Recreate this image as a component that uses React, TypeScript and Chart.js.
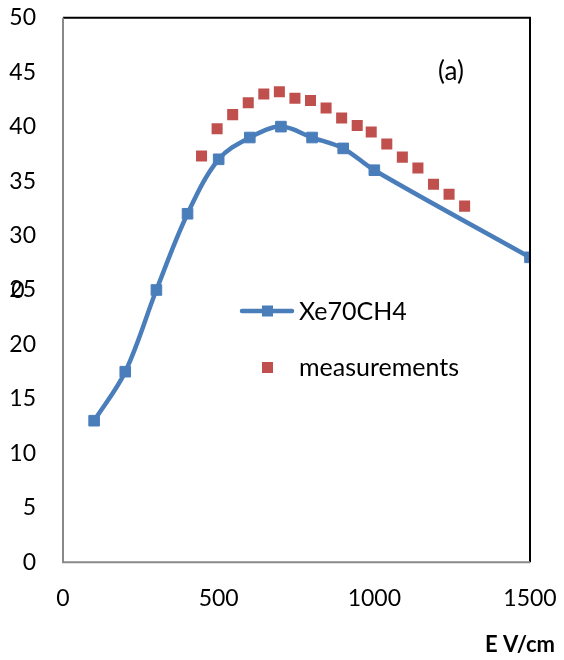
import React, { useEffect, useRef } from "react";
import { Chart, registerables } from "chart.js";

Chart.register(...registerables);

const lineX = [100, 200, 300, 400, 500, 600, 700, 800, 900, 1000, 1500];
const lineY = [13, 17.5, 25, 32, 37, 39, 40, 39, 38, 36, 28];

const measX = [445, 495, 545, 595, 645, 695, 745, 795, 845, 895, 945, 990, 1040, 1090, 1140, 1190, 1240, 1290];
const measY = [37.3, 39.8, 41.1, 42.2, 43.0, 43.2, 42.6, 42.4, 41.7, 40.8, 40.1, 39.5, 38.4, 37.2, 36.2, 34.7, 33.8, 32.7];

const lineLabel = "Xe70CH4";
const measLabel = "measurements";
const xTitle = "E V/cm";
const panelLabel = "(a)";

const BLUE = "#4A7EBB";
const RED = "#C0504D";
const FONT = "Lato, 'Liberation Sans', sans-serif";

const overlayPlugin = {
  id: "overlay",
  afterDraw(chart: any) {
    const { ctx, chartArea } = chart;
    const { left, right, top, bottom } = chartArea;
    ctx.save();
    ctx.lineWidth = 2;
    ctx.strokeStyle = "#000";
    ctx.beginPath();
    ctx.moveTo(left, top);
    ctx.lineTo(right, top);
    ctx.lineTo(right, bottom);
    ctx.stroke();
    ctx.strokeStyle = "#898989";
    ctx.beginPath();
    ctx.moveTo(left, top);
    ctx.lineTo(left, bottom);
    ctx.lineTo(right, bottom);
    ctx.stroke();

    // legend
    ctx.lineCap = "round";
    ctx.strokeStyle = BLUE;
    ctx.lineWidth = 4.5;
    ctx.beginPath();
    ctx.moveTo(242, 311);
    ctx.lineTo(292, 311);
    ctx.stroke();
    ctx.fillStyle = BLUE;
    ctx.fillRect(262, 305.5, 11, 11);
    ctx.fillStyle = RED;
    ctx.fillRect(262, 362, 11, 11);
    ctx.fillStyle = "#000";
    ctx.font = "25px " + FONT;
    ctx.textBaseline = "middle";
    ctx.textAlign = "left";
    ctx.fillText(lineLabel, 299, 312);
    ctx.fillText(measLabel, 299, 368);

    ctx.font = "26px " + FONT;
    ctx.textAlign = "center";
    ctx.fillText(panelLabel, 451, 72);
    ctx.font = "23px " + FONT;
    ctx.fillText("0", 18, 291);

    ctx.font = "bold 22px " + FONT;
    ctx.fillText(xTitle, 520, 645);
    ctx.restore();
  },
};

export default function App() {
  const ref = useRef<HTMLCanvasElement>(null);
  useEffect(() => {
    document.body.style.margin = "0";
    const canvas = ref.current!;
    const chart = new Chart(canvas, {
      type: "scatter",
      data: {
        datasets: [
          {
            label: lineLabel,
            data: lineX.map((x, i) => ({ x, y: lineY[i] })),
            showLine: true,
            borderColor: BLUE,
            backgroundColor: BLUE,
            borderWidth: 4.5,
            tension: 0.35,
            pointStyle: "rect",
            pointRadius: 7.5,
            pointBorderWidth: 1,
            pointBorderColor: BLUE,
            pointBackgroundColor: BLUE,
            order: 1,
          },
          {
            label: measLabel,
            data: measX.map((x, i) => ({ x, y: measY[i] })),
            showLine: false,
            pointStyle: "rect",
            pointRadius: 7.8,
            pointBorderWidth: 0,
            pointBackgroundColor: RED,
            backgroundColor: RED,
            borderColor: RED,
            order: 2,
          },
        ],
      },
      options: {
        responsive: false,
        animation: false,
        layout: { padding: { left: 0, top: 17.7, right: 34, bottom: 0 } },
        plugins: { legend: { display: false }, tooltip: { enabled: false } },
        scales: {
          x: {
            type: "linear",
            min: 0,
            max: 1500,
            grid: { display: false, drawTicks: false },
            border: { display: false },
            ticks: {
              stepSize: 500,
              color: "#000",
              padding: 22,
              maxRotation: 0,
              font: { family: FONT, size: 23 },
              callback: (v: any) => String(v),
            },
            afterFit: (s: any) => {
              s.height = 97.7;
              s.paddingLeft = 0;
              s.paddingRight = 0;
            },
          },
          y: {
            type: "linear",
            min: 0,
            max: 50,
            grid: { display: false, drawTicks: false },
            border: { display: false },
            ticks: {
              stepSize: 5,
              color: "#000",
              padding: 27,
              font: { family: FONT, size: 23 },
              callback: (v: any) => String(v),
            },
            afterFit: (s: any) => {
              s.width = 63;
              s.paddingTop = 0;
              s.paddingBottom = 0;
            },
          },
        },
      },
      plugins: [overlayPlugin],
    });
    return () => chart.destroy();
  }, []);
  return <canvas ref={ref} width={564} height={660} style={{ display: "block" }} />;
}
